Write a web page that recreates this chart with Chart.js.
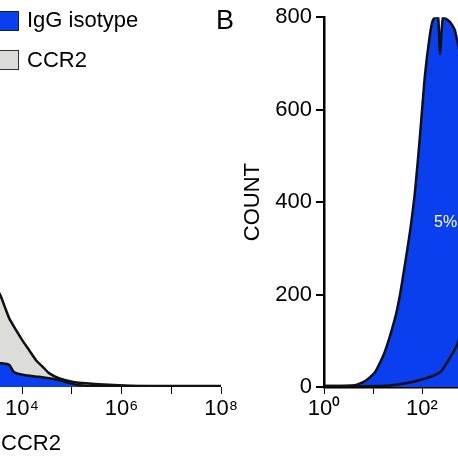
<!DOCTYPE html>
<html>
<head>
<meta charset="utf-8">
<script src="https://cdn.jsdelivr.net/npm/chart.js@4"></script>
<style>
  html, body { margin: 0; padding: 0; width: 458px; height: 458px; overflow: hidden; background: #fff; }
  body { position: relative; font-family: "Liberation Sans", Arial, sans-serif; }
  .box { position: absolute; }
  .txt { position: absolute; color: #000; white-space: nowrap; }
</style>
</head>
<body>
<div class="box" style="left:-250px;top:0;width:490px;height:458px"><canvas id="left"></canvas></div>
<div class="box" style="left:240px;top:0;width:400px;height:458px"><canvas id="right"></canvas></div>
<div class="txt" style="left:-2px;top:11px;width:19px;height:18px;background:#0a3ff0;border:1px solid #123"></div>
<div class="txt" style="left:27px;top:7px;font-size:22px">IgG isotype</div>
<div class="txt" style="left:-2px;top:50px;width:19px;height:18px;background:#dcdcd8;border:1px solid #333"></div>
<div class="txt" style="left:27px;top:47px;font-size:22px">CCR2</div>
<div class="txt" style="left:216px;top:5px;font-size:27px">B</div>
<div class="txt" style="left:1px;top:430px;font-size:22px">CCR2</div>
<div class="txt" style="left:434px;top:213px;font-size:16px;color:#fff">5%</div>
<script>
// log10 fluorescence (x) and count (y)
const leftCcr2X = [3.2, 3.54, 3.64, 3.74, 3.88, 4.0, 4.14, 4.28, 4.44, 4.54, 4.74, 4.94, 5.14, 5.54, 5.94, 6.54, 8.0];
const leftCcr2Y = [240, 203, 177, 149, 123, 102, 80, 58, 41, 30, 19, 13, 9, 6, 4, 2, 2];
const leftIggX = [3.2, 3.54, 3.74, 3.84, 4.04, 4.34, 4.74, 4.94, 5.14, 5.54, 8.0];
const leftIggY = [60, 52, 48, 32, 26, 22, 15, 9, 4, 2, 1];

const rightIggX = [0, 0.63, 0.84, 1.04, 1.24, 1.45, 1.55, 1.65, 1.76, 1.86, 1.96, 2.06, 2.16, 2.22, 2.28, 2.33, 2.37, 2.43, 2.57, 2.67, 2.9, 3.2, 3.5, 3.8, 4.2];
const rightIggY = [2, 4, 13, 32, 76, 149, 199, 264, 340, 426, 545, 674, 761, 793, 800, 800, 720, 800, 790, 772, 650, 400, 150, 30, 0];
const rightCcr2X = [0, 1.14, 1.55, 1.96, 2.37, 2.57, 2.73, 3.0, 3.4, 3.8, 4.2, 4.6];
const rightCcr2Y = [2, 2, 6, 15, 32, 63, 95, 200, 350, 300, 120, 10];

const BLUE = '#0a3ff0';
const GREY = '#dcdcd8';
const SUP = ['⁰', '¹', '²', '³', '⁴', '⁵', '⁶', '⁷', '⁸'];
const tickFont = { family: 'Liberation Sans', size: 22 };

function pts(xs, ys) { return xs.map((x, i) => ({ x: x, y: ys[i] })); }

function sets(ccrX, ccrY, iggX, iggY) {
  return [
    { data: pts(ccrX, ccrY), backgroundColor: GREY, borderWidth: 0, fill: 'origin', order: 3 },
    { data: pts(iggX, iggY), backgroundColor: BLUE, borderColor: '#111', borderWidth: 2.5, fill: 'origin', order: 2 },
    { data: pts(ccrX, ccrY), borderColor: '#111', borderWidth: 2.5, fill: false, order: 1 },
  ];
}

const common = {
  responsive: true, maintainAspectRatio: false, animation: false,
  plugins: { legend: { display: false }, tooltip: { enabled: false } },
  elements: { point: { radius: 0 }, line: { tension: 0.2 } },
};

new Chart(document.getElementById('left'), {
  type: 'line',
  data: { datasets: sets(leftCcr2X, leftCcr2Y, leftIggX, leftIggY) },
  options: Object.assign({}, common, {
    layout: { padding: { top: 17, left: 73, right: 17 } },
    scales: {
      x: {
        type: 'linear', min: 0, max: 8,
        grid: { drawOnChartArea: false, color: '#000', tickLength: 7 },
        border: { display: false },
        ticks: { stepSize: 1, color: '#000', font: tickFont, autoSkip: false, maxRotation: 0, padding: 2,
          callback: v => (v % 2 === 0 ? '10' + SUP[v] : '') },
        afterFit: s => { s.height = 71; },
      },
      y: { display: false, min: 0, max: 800 },
    },
  }),
});

new Chart(document.getElementById('right'), {
  type: 'line',
  data: { datasets: sets(rightCcr2X, rightCcr2Y, rightIggX, rightIggY) },
  options: Object.assign({}, common, {
    layout: { padding: { top: 17, right: 22 } },
    scales: {
      x: {
        type: 'linear', min: 0, max: 6,
        grid: { drawOnChartArea: false, color: '#000', tickLength: 7 },
        border: { color: '#000', width: 2.5 },
        ticks: { stepSize: 1, color: '#000', font: tickFont, autoSkip: false, maxRotation: 0, padding: 2,
          callback: v => (v % 2 === 0 ? '10' + SUP[v] : '') },
        afterFit: s => { s.height = 71; },
      },
      y: {
        min: 0, max: 800,
        grid: { drawOnChartArea: false, color: '#000', tickLength: 8, lineWidth: 2 },
        border: { color: '#000', width: 2.5 },
        ticks: { stepSize: 200, color: '#000', font: tickFont, padding: 4 },
        title: { display: true, text: 'COUNT', color: '#000', font: tickFont, padding: 0 },
        afterFit: s => { s.width = 84; },
      },
    },
  }),
});
</script>
</body>
</html>
